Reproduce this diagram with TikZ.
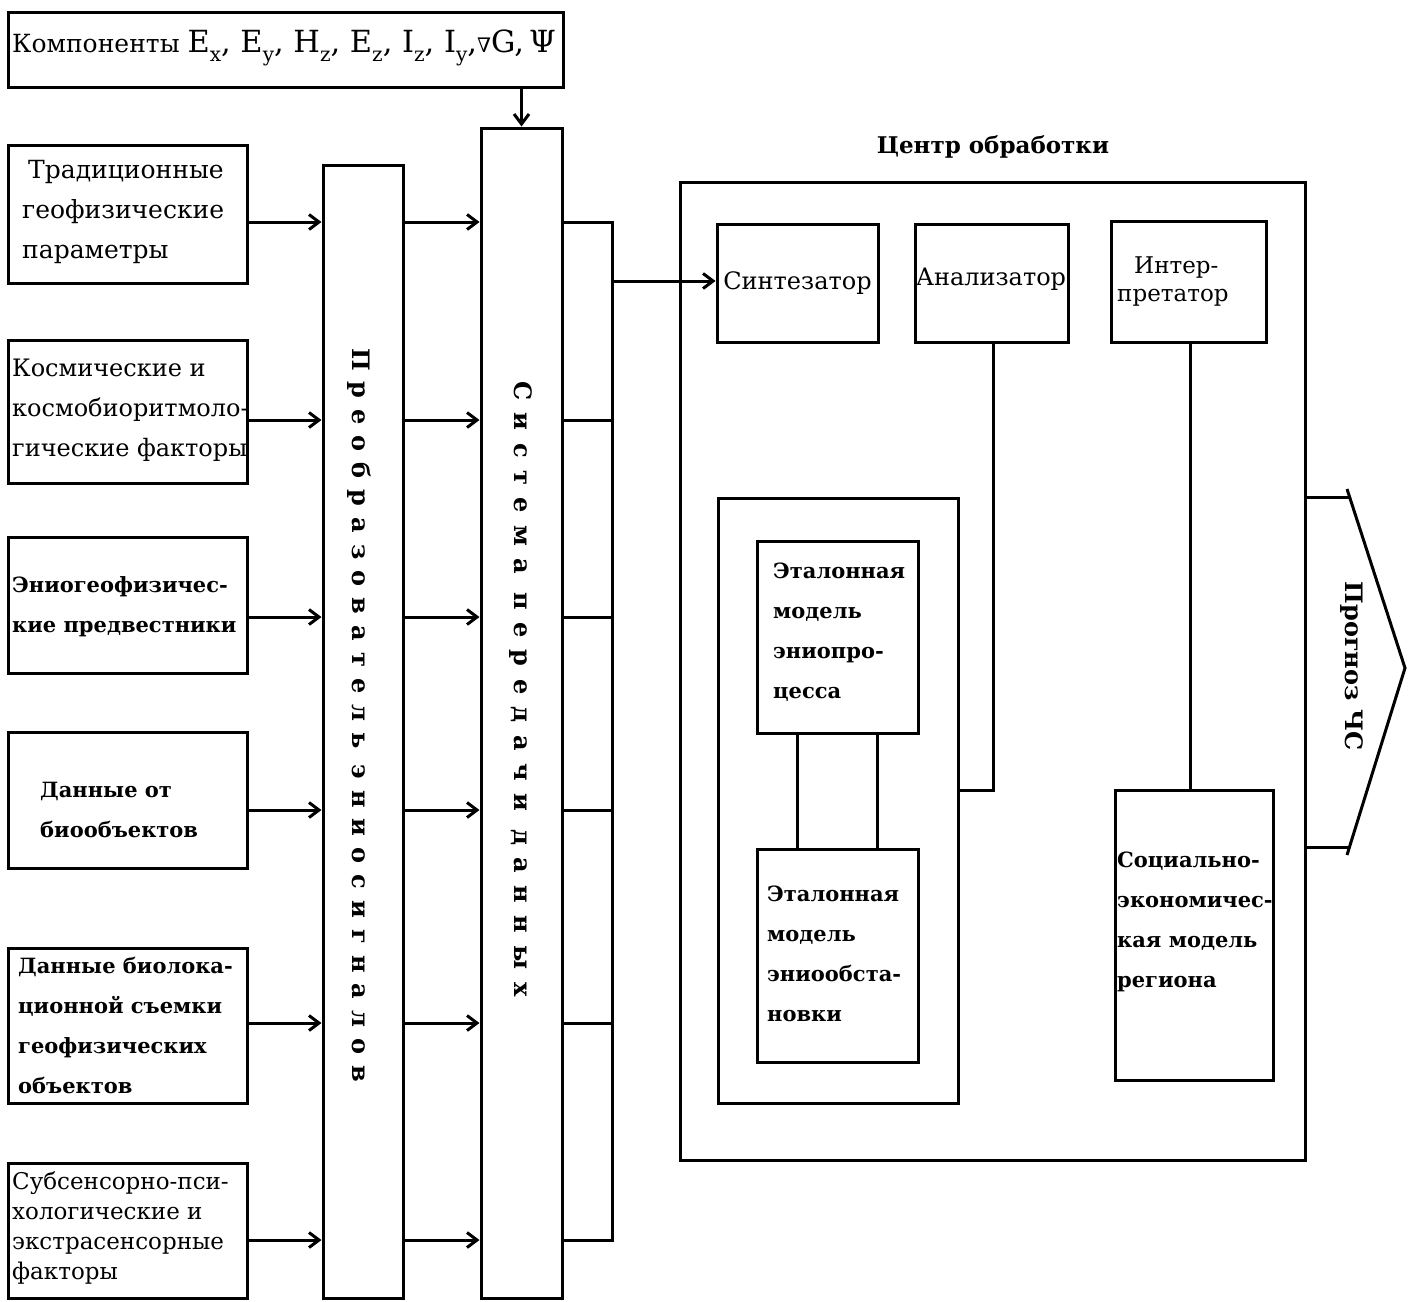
\documentclass[tikz,border=0pt]{standalone}
\usepackage{fontspec}
\setmainfont{DejaVu Serif}
\newfontfamily\barfont[LetterSpace=52]{DejaVu Serif}
\newfontfamily\barfontb[LetterSpace=46]{DejaVu Serif}
\usetikzlibrary{arrows.meta,calc}
\tikzset{
  box/.style={draw, line width=3pt, inner sep=0pt},
  lbl/.style={align=left, anchor=west, inner sep=0pt},
  arr/.style={line width=3pt, -{Straight Barb[length=10pt,width=15pt,line width=3pt]}},
  ln/.style={line width=3pt},
  reg/.style={font=\fontsize{24}{40}\selectfont},
  bld/.style={font=\bfseries\fontsize{21}{40}\selectfont},
}
\newcommand\rbox[5]{\node[box,minimum width={#4-#2},minimum height={#5-#3}] (#1) at ({(#2+#4)/2},{(#3+#5)/2}) {};}
\newcommand\sbs[1]{\raisebox{-0.28em}{\fontsize{20}{20}\selectfont #1}}
\begin{document}
\begin{tikzpicture}[x=1pt,y=-1pt]
\useasboundingbox (0,0) rectangle (1408,1301);
% boxes
\rbox{top}{8}{12}{563}{87}
\rbox{b1}{8}{145}{247}{283}
\rbox{b2}{8}{340}{247}{483}
\rbox{b3}{8}{537}{247}{673}
\rbox{b4}{8}{732}{247}{868}
\rbox{b5}{8}{948}{247}{1103}
\rbox{b6}{8}{1163}{247}{1298}
\rbox{bar1}{323}{165}{403}{1298}
\rbox{bar2}{481}{128}{562}{1298}
\rbox{outer}{680}{182}{1305}{1160}
\rbox{synth}{717}{224}{878}{342}
\rbox{anal}{915}{224}{1068}{342}
\rbox{interp}{1111}{221}{1266}{342}
\rbox{grp}{718}{498}{958}{1103}
\rbox{et1}{757}{541}{918}{733}
\rbox{et2}{757}{849}{918}{1062}
\rbox{soc}{1115}{790}{1273}{1080}
% texts
\node[lbl] (ttop) at (12,48) {\fontsize{25}{30}\selectfont Компоненты\ \fontsize{30.5}{30}\selectfont E\sbs{x}, E\sbs{y}, H\sbs{z}, E\sbs{z}, I\sbs{z}, I\sbs{y},{\fontsize{20}{20}\selectfont ∇}G,\,Ψ};
\node[lbl,reg,font=\fontsize{25}{40}\selectfont] (t1) at (22,212) {\hspace*{6pt}Традиционные\\геофизические\\параметры};
\node[lbl,reg] (t2) at (12,410) {Космические и\\космобиоритмоло-\\гические факторы};
\node[lbl,bld] (t3) at (12,607) {Эниогеофизичес-\\кие предвестники};
\node[lbl,bld] (t4) at (40,810) {Данные от\\биообъектов};
\node[lbl,bld] (t5) at (18,1025) {Данные биолока-\\ционной съемки\\геофизических\\объектов};
\node[lbl,reg,font=\fontsize{23}{30}\selectfont] (t6) at (12,1228) {Субсенсорно-пси-\\хологические и\\экстрасенсорные\\факторы};
\node[rotate=-90,font=\barfontb\bfseries\fontsize{24}{24}\selectfont] (tbar1) at (359,715) {Преобразователь\hspace{16pt}эниосигналов};
\node[rotate=-90,font=\barfont\bfseries\fontsize{24}{24}\selectfont] (tbar2) at (521,689) {Система\hspace{18pt}передачи\hspace{18pt}данных};
\node[font=\bfseries\fontsize{23}{23}\selectfont] (title) at (993,147) {Центр обработки};
\node[reg] (tsyn) at (synth) {Синтезатор};
\node[reg] (tan) at (991,279) {Анализатор};
\node[lbl,font=\fontsize{23}{28}\selectfont] (tint) at (1117,282) {\hspace*{17pt}Интер-\\претатор};
\node[lbl,bld] (te1) at (773,632) {Эталонная\\модель\\эниопро-\\цесса};
\node[lbl,bld] (te2) at (767,954) {Эталонная\\модель\\эниообста-\\новки};
\node[lbl,bld] (tsoc) at (1117,922) {Социально-\\экономичес-\\кая модель\\региона};
\node[rotate=-90,font=\bfseries\fontsize{24}{24}\selectfont] (tprog) at (1352,666) {Прогноз ЧС};
% rows
\foreach \n/\y in {1/222,2/420,3/617,4/810,5/1023,6/1240}{
  \coordinate (r\n) at (0,\y);
  \draw[arr] (b\n.east |- r\n) -- (bar1.west |- r\n);
  \draw[arr] (bar1.east |- r\n) -- (bar2.west |- r\n);
}
\coordinate (bus) at (612,0);
\foreach \n in {1,...,6}{
  \draw[ln] (bar2.east |- r\n) -- (bus |- r\n);
}
\draw[ln,line cap=rect] (bus |- r1) -- (bus |- r6);
\coordinate (rs) at (0,281);
\draw[arr] (bus |- rs) -- (synth.west |- rs);
\draw[arr] (bar2.north |- top.south) -- (bar2.north);
% center connections
\coordinate (ra) at (0,790);
\draw[ln,line join=miter] (anal.south -| 993,0) -- (993,790) -- (grp.east |- ra);
\draw[ln] (interp.south -| 1190,0) -- (soc.north -| 1190,0);
\draw[ln] ([xshift=-40pt]et1.south) -- ([xshift=-40pt]et2.north);
\draw[ln] ([xshift=40pt]et1.south) -- ([xshift=40pt]et2.north);
% output arrow
\coordinate (o1) at (0,497);
\coordinate (o2) at (0,847);
\draw[ln,line join=miter] (outer.east |- o1) -- (1350,497);
\draw[ln,line join=miter] (outer.east |- o2) -- (1350,847);
\draw[ln,line join=miter] (1347,489) -- (1405,668) -- (1347,855);
\end{tikzpicture}
\end{document}
